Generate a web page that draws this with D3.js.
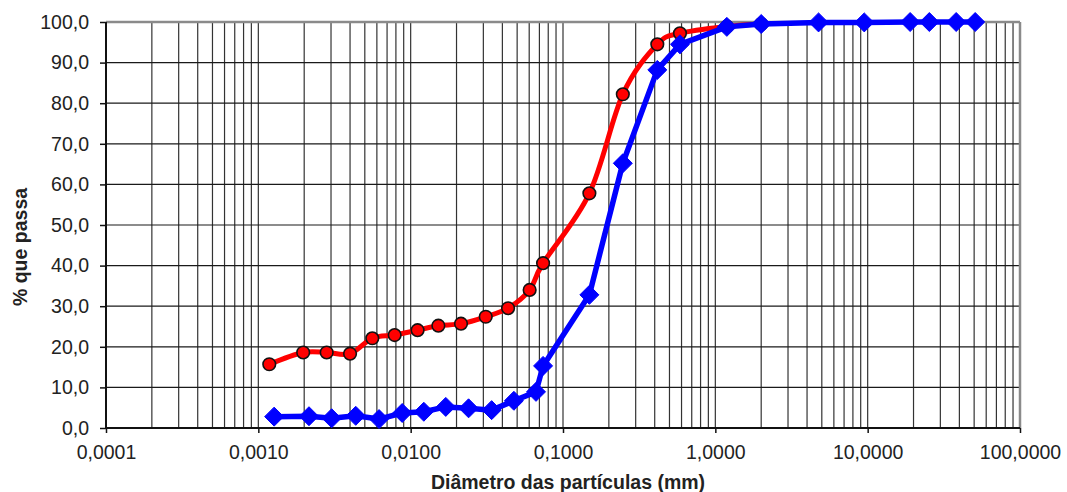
<!DOCTYPE html>
<html>
<head>
<meta charset="utf-8">
<script src="https://cdn.jsdelivr.net/npm/d3@7"></script>
<style>
  html, body { margin: 0; padding: 0; background: #fff; }
  svg { display: block; }
  text { font-family: "Liberation Sans", Arial, sans-serif; fill: #222; }
</style>
</head>
<body>
<svg id="chart" width="1067" height="492"></svg>
<script>
// Sample A (red, circles): particle diameter (mm) and % passing
const diamA = [0.00118, 0.00197, 0.00281, 0.0040, 0.0056, 0.00785, 0.0111, 0.0152, 0.0214, 0.0311,
               0.0436, 0.0604, 0.074, 0.149, 0.247, 0.416, 0.586, 1.19, 2.0];
const passA = [15.7, 18.6, 18.6, 18.3, 22.1, 22.9, 24.1, 25.2, 25.7, 27.4,
               29.5, 34.0, 40.6, 57.8, 82.2, 94.5, 97.2, 98.9, 99.5];

// Sample B (blue, diamonds)
const diamB = [0.00127, 0.00215, 0.00303, 0.00436, 0.0062, 0.0088, 0.0122, 0.0170, 0.0240, 0.0340,
               0.0476, 0.0665, 0.074, 0.149, 0.247, 0.416, 0.586, 1.19, 2.0, 4.76,
               9.5, 19.0, 25.4, 38.1, 50.8];
const passB = [2.8, 2.9, 2.4, 3.0, 2.2, 3.7, 4.0, 5.2, 4.85, 4.4,
               6.7, 8.9, 15.3, 32.8, 65.2, 88.2, 94.5, 98.8, 99.5, 99.9,
               99.9, 100, 100, 100, 100];

// Axis ticks
const xTicks = [0.0001, 0.001, 0.01, 0.1, 1, 10, 100];
const yTicks = [0, 10, 20, 30, 40, 50, 60, 70, 80, 90, 100];

const xTitle = "Diâmetro das partículas (mm)";
const yTitle = "% que passa";

const svg = d3.select("#chart");
const L = 106, R = 1020, T = 22, B = 428;

const x = d3.scaleLog().domain([0.0001, 100]).range([L, R]);
const y = d3.scaleLinear().domain([0, 100]).range([B, T]);

const fmtY = d => d.toFixed(1).replace(".", ",");
const fmtX = d => d.toFixed(4).replace(".", ",");

// grid
const grid = svg.append("g");
grid.selectAll("line.v").data(x.ticks()).join("line")
  .attr("x1", d => x(d)).attr("x2", d => x(d))
  .attr("y1", T).attr("y2", B)
  .attr("stroke", "#333").attr("stroke-width", 1.2);
grid.selectAll("line.h").data(yTicks).join("line")
  .attr("x1", L).attr("x2", R)
  .attr("y1", d => y(d)).attr("y2", d => y(d))
  .attr("stroke", "#1a1a1a").attr("stroke-width", 1.2);

// plot frame: top and right edges in grey
svg.append("line").attr("x1", L).attr("x2", R).attr("y1", T).attr("y2", T)
  .attr("stroke", "#8a8a8a").attr("stroke-width", 2.5);
svg.append("line").attr("x1", R).attr("x2", R).attr("y1", T).attr("y2", B)
  .attr("stroke", "#8a8a8a").attr("stroke-width", 2.5);

// axes
const yAxis = svg.append("g").attr("transform", `translate(${L},0)`)
  .call(d3.axisLeft(y).tickValues(yTicks).tickFormat(fmtY).tickSize(6).tickPadding(11));
const xAxis = svg.append("g").attr("transform", `translate(0,${B})`)
  .call(d3.axisBottom(x).tickValues(xTicks).tickFormat(fmtX).tickSize(5).tickPadding(12));
[yAxis, xAxis].forEach(g => {
  g.select(".domain").attr("stroke", "#111").attr("stroke-width", 2);
  g.selectAll(".tick line").attr("stroke", "#111").attr("stroke-width", 1.5);
  g.selectAll(".tick text").attr("font-size", 19.5).attr("fill", "#222")
    .style("font-family", "'Liberation Sans', Arial, sans-serif");
});
xAxis.select(".domain").attr("d", `M${L},0H${R}`);
yAxis.select(".domain").attr("d", `M0,${T}V${B}`);

// titles
svg.append("text").attr("x", 568).attr("y", 489).attr("text-anchor", "middle")
  .attr("font-size", 19.5).attr("font-weight", "bold").text(xTitle);
svg.append("text").attr("transform", "translate(27,247) rotate(-90)").attr("text-anchor", "middle")
  .attr("font-size", 19.5).attr("font-weight", "bold").text(yTitle);

// series A: smoothed red line with circles
const dataA = diamA.map((d, i) => [d, passA[i]]);
const dataB = diamB.map((d, i) => [d, passB[i]]);

svg.append("path").datum(dataA)
  .attr("d", d3.line().x(d => x(d[0])).y(d => y(d[1])).curve(d3.curveCatmullRom.alpha(0)))
  .attr("fill", "none").attr("stroke", "#ff0000").attr("stroke-width", 5)
  .attr("stroke-linejoin", "round");
svg.append("g").selectAll("circle").data(dataA).join("circle")
  .attr("cx", d => x(d[0])).attr("cy", d => y(d[1])).attr("r", 6.3)
  .attr("fill", "#ff0000").attr("stroke", "#111").attr("stroke-width", 1.6);

// series B: straight blue line with diamonds
svg.append("path").datum(dataB)
  .attr("d", d3.line().x(d => x(d[0])).y(d => y(d[1])))
  .attr("fill", "none").attr("stroke", "#0000ff").attr("stroke-width", 5.5)
  .attr("stroke-linejoin", "round");
const diamond = d3.symbol().type(d3.symbolDiamond2).size(230);
svg.append("g").selectAll("path").data(dataB).join("path")
  .attr("transform", d => `translate(${x(d[0])},${y(d[1])})`)
  .attr("d", diamond).attr("fill", "#0000ff")
  .attr("stroke", "#0000ff").attr("stroke-width", 1).attr("stroke-linejoin", "round");
</script>
</body>
</html>
